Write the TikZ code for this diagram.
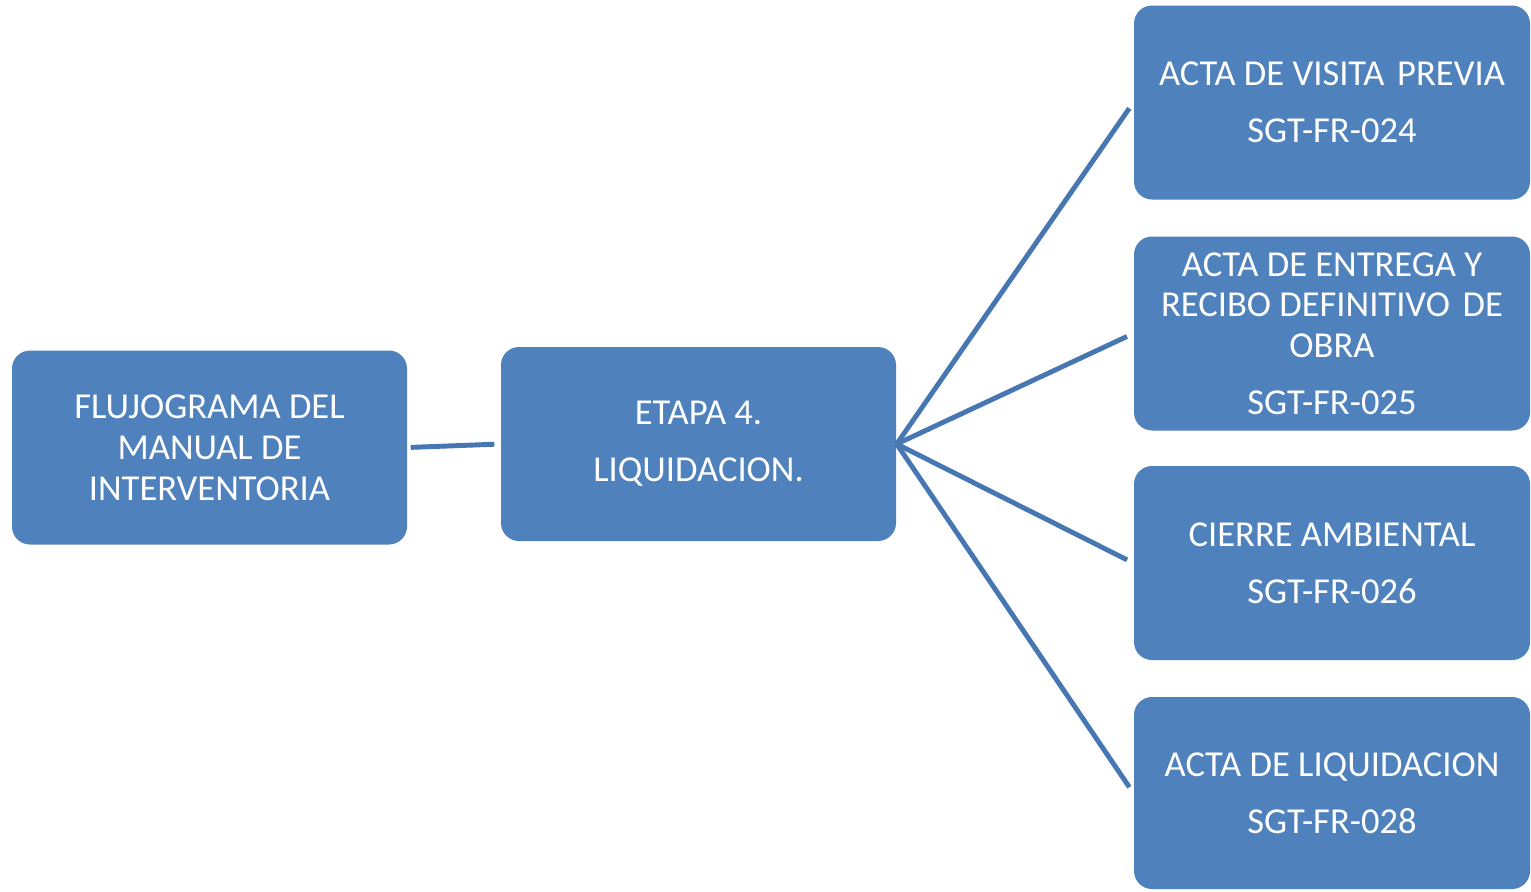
\documentclass[tikz,border=0pt]{standalone}
\usepackage{fontspec}
\setmainfont{Carlito}
\usepackage{xcolor}
\usepackage{tikz}
\usetikzlibrary{positioning}

\definecolor{boxblue}{HTML}{4F81BD}
\definecolor{lineblue}{HTML}{4677B3}

\begin{document}
\begin{tikzpicture}[
    box/.style={rectangle, rounded corners=0.18cm, fill=boxblue, text=white,
        minimum width=3.95cm, minimum height=1.94cm, inner sep=0pt, align=center,
        font=\fontsize{10.4}{11.6}\selectfont},
    link/.style={draw=lineblue, line width=1.4pt}
]
    \useasboundingbox (0,0) rectangle (15.31,8.91);

    % Main boxes
    \node[box] (flujo) at (2.095,4.435) {FLUJOGRAMA DEL\\MANUAL DE\\INTERVENTORIA};
    \node[box] (etapa) at (6.985,4.47) {ETAPA 4.\\[0.16cm]LIQUIDACION.};

    % Formats
    \node[box, minimum width=3.96cm] (visita) at (13.32,7.885) {ACTA DE VISITA\hspace{0.12em} PREVIA\\[0.16cm]SGT-FR-024};
    \node[box, minimum width=3.96cm] (entrega) at (13.32,5.575) {ACTA DE ENTREGA Y\\RECIBO DEFINITIVO\hspace{0.12em} DE\\OBRA\\[0.16cm]SGT-FR-025};
    \node[box, minimum width=3.96cm] (ambiental) at (13.32,3.28) {CIERRE AMBIENTAL\\[0.16cm]SGT-FR-026};
    \node[box, minimum width=3.96cm, minimum height=1.92cm] (liquida) at (13.32,0.98) {ACTA DE LIQUIDACION\\[0.16cm]SGT-FR-028};

    % Connectors
    \draw[link, shorten <=0.03cm, shorten >=0.06cm] (flujo.east) -- (etapa.west);
    \draw[link, shorten >=0.07cm] (etapa.east) -- (visita.west);
    \draw[link, shorten >=0.07cm] (etapa.east) -- (entrega.west);
    \draw[link, shorten >=0.07cm] (etapa.east) -- (ambiental.west);
    \draw[link, shorten >=0.07cm] (etapa.east) -- (liquida.west);
\end{tikzpicture}
\end{document}
